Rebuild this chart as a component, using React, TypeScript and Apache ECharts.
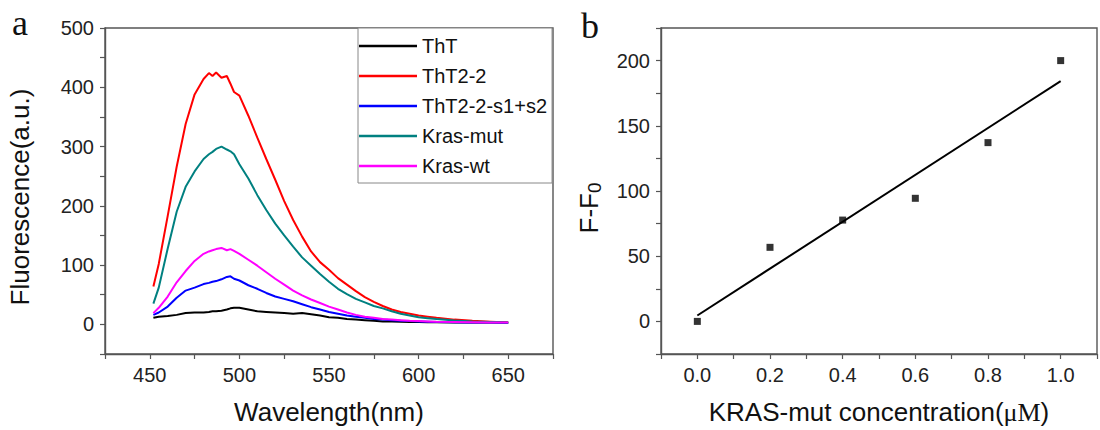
import React, { useEffect, useRef } from "react";
import * as echarts from "echarts";

// ---------- data ----------
const wavelengths = [452, 455, 460, 465, 470, 475, 480, 483, 485, 487, 490, 493, 495, 497, 500, 505, 510, 515, 520, 525, 530, 535, 540, 545, 550, 555, 560, 565, 570, 575, 580, 585, 590, 595, 600, 605, 610, 620, 630, 640, 650];

const thtValues = [11, 13, 14, 16, 19, 20, 20, 21, 22, 22, 23, 25, 27, 28, 28, 25, 22, 21, 20, 19, 18, 19, 17, 15, 12, 11, 9, 8, 7, 6, 5, 5, 4.5, 4, 4, 3.5, 3.5, 3, 3, 3, 3];
const tht22Values = [64, 102, 183, 266, 338, 388, 414, 424, 419, 425, 416, 419, 406, 392, 386, 352, 315, 279, 244, 208, 176, 148, 123, 105, 92, 78, 67, 56, 46, 38, 31, 25, 21, 18, 15, 13, 11, 8, 6, 4.5, 3];
const tht22s1s2Values = [16, 20, 30, 45, 57, 62, 68, 70, 72, 73, 76, 80, 81, 77, 74, 66, 60, 53, 47, 43, 39, 34, 29, 25, 21, 18, 15, 13, 11, 9, 8, 7, 6, 5.5, 5, 4.5, 4, 3.5, 3, 3, 2.5];
const krasMutValues = [35, 62, 128, 190, 232, 258, 279, 287, 291, 296, 300, 295, 292, 287, 270, 246, 218, 193, 170, 150, 131, 113, 99, 85, 72, 60, 51, 43, 37, 31, 27, 22, 18, 15, 12, 10.5, 9, 6.5, 5, 4, 3];
const krasWtValues = [19, 28, 47, 71, 90, 107, 119, 123, 125, 127, 129, 125, 127, 124, 119, 109, 99, 88, 77, 67, 57, 49, 42, 36, 30, 25, 20, 16, 13, 11, 9, 8, 7, 6, 5.5, 5, 4.5, 4, 3.5, 3, 3];

const seriesNames = ["ThT", "ThT2-2", "ThT2-2-s1+s2", "Kras-mut", "Kras-wt"];
const seriesColors = ["#000000", "#ff0000", "#0000ff", "#008080", "#ff00ff"];

const concentrations = [0.0, 0.2, 0.4, 0.6, 0.8, 1.0];
const deltaF = [0, 56.8, 77.7, 94.4, 137.1, 200];
const fitX = [0.0, 1.0];
const fitY = [4.5, 184.3];

const leftXTickLabels = [450, 500, 550, 600, 650];
const leftYTickLabels = [0, 100, 200, 300, 400, 500];
const rightXTickLabels = [0, 2, 4, 6, 8, 10]; // tenths
const rightYTickLabels = [0, 50, 100, 150, 200];

const FONT = "'Liberation Sans', Arial, Helvetica, sans-serif";
const SERIF = "'Liberation Serif', 'Times New Roman', Times, serif";
const AXIS_COLOR = "#555555";
const LABEL_COLOR = "#222222";

export default function App() {
  const ref = useRef<HTMLDivElement>(null);

  useEffect(() => {
    if (!ref.current) return;
    const chart = echarts.init(ref.current, null, { renderer: "svg" });

    const axisLine = { show: true, onZero: false, lineStyle: { color: AXIS_COLOR, width: 1.4 } };
    const axisTick = { show: true, inside: false, length: 5, lineStyle: { color: AXIS_COLOR, width: 1.2 } };
    const labelStyle = { color: LABEL_COLOR, fontSize: 20, fontFamily: FONT };

    const specSeries = [thtValues, tht22Values, tht22s1s2Values, krasMutValues, krasWtValues].map((vals, i) => ({
      name: seriesNames[i],
      type: "line",
      xAxisIndex: 0,
      yAxisIndex: 0,
      data: wavelengths.map((w, k) => [w, vals[k]]),
      showSymbol: false,
      symbol: "none",
      lineStyle: { color: seriesColors[i], width: 2 },
      itemStyle: { color: seriesColors[i] },
      smooth: false,
    }));

    const option: any = {
      animation: false,
      backgroundColor: "#ffffff",
      grid: [
        { left: 105, top: 28, width: 448, height: 329, show: true, borderColor: AXIS_COLOR, borderWidth: 1.4, containLabel: false },
        { left: 661, top: 28, width: 447, height: 329, show: true, borderColor: AXIS_COLOR, borderWidth: 1.4, containLabel: false },
      ],
      legend: {
        data: seriesNames,
        orient: "vertical",
        left: 358,
        top: 28,
        icon: "rect",
        itemWidth: 58,
        itemHeight: 2.5,
        itemGap: 10,
        padding: [8, 5, 7, 1],
        borderColor: "#888888",
        borderWidth: 1,
        backgroundColor: "#ffffff",
        textStyle: { fontSize: 20, fontFamily: FONT, color: "#111111" },
        selectedMode: false,
      },
      xAxis: [
        {
          type: "value",
          gridIndex: 0,
          min: 425,
          max: 675,
          interval: 25,
          name: "Wavelength(nm)",
          nameLocation: "middle",
          nameGap: 45,
          nameTextStyle: { fontSize: 26, fontFamily: FONT, color: "#111111" },
          axisLine,
          axisTick,
          splitLine: { show: false },
          axisLabel: {
            ...labelStyle,
            margin: 11,
            formatter: (v: number) => (leftXTickLabels.includes(Math.round(v)) ? String(Math.round(v)) : ""),
          },
        },
        {
          type: "value",
          gridIndex: 1,
          min: -0.1,
          max: 1.1,
          interval: 0.1,
          name: "KRAS-mut concentration({s|μM})",
          nameLocation: "middle",
          nameGap: 45,
          nameTextStyle: {
            fontSize: 26,
            fontFamily: FONT,
            color: "#111111",
            rich: { s: { fontSize: 26, fontFamily: SERIF, color: "#111111" } },
          },
          axisLine,
          axisTick,
          splitLine: { show: false },
          axisLabel: {
            ...labelStyle,
            margin: 11,
            formatter: (v: number) => {
              const r = Math.round(v * 10);
              return rightXTickLabels.includes(r) ? (r / 10).toFixed(1) : "";
            },
          },
        },
      ],
      yAxis: [
        {
          type: "value",
          gridIndex: 0,
          min: -50,
          max: 500,
          interval: 50,
          axisLine,
          axisTick,
          splitLine: { show: false },
          axisLabel: {
            ...labelStyle,
            margin: 11,
            formatter: (v: number) => (leftYTickLabels.includes(Math.round(v)) ? String(Math.round(v)) : ""),
          },
        },
        {
          type: "value",
          gridIndex: 1,
          min: -25,
          max: 225,
          interval: 25,
          axisLine,
          axisTick,
          splitLine: { show: false },
          axisLabel: {
            ...labelStyle,
            margin: 11,
            formatter: (v: number) => (rightYTickLabels.includes(Math.round(v)) ? String(Math.round(v)) : ""),
          },
        },
      ],
      graphic: [
        {
          type: "text",
          x: 20,
          y: 197,
          rotation: Math.PI / 2,
          style: {
            text: "Fluorescence(a.u.)",
            font: `26px ${FONT}`,
            fill: "#111111",
            align: "center",
            verticalAlign: "middle",
          },
        },
        {
          type: "text",
          x: 589,
          y: 208,
          rotation: Math.PI / 2,
          style: {
            text: "F-F{sub|0}",
            font: `26px ${FONT}`,
            fill: "#111111",
            align: "center",
            verticalAlign: "middle",
            rich: { sub: { fontSize: 19, fontFamily: FONT, fill: "#111111", padding: [10, 0, 0, 0] } },
          },
        },
        {
          type: "text",
          x: 12,
          y: 23,
          style: { text: "a", font: `36px ${SERIF}`, fill: "#111111", align: "left", verticalAlign: "middle" },
        },
        {
          type: "text",
          x: 581,
          y: 26,
          style: { text: "b", font: `36px ${SERIF}`, fill: "#111111", align: "left", verticalAlign: "middle" },
        },
      ],
      series: [
        ...specSeries,
        {
          name: "fit",
          type: "line",
          xAxisIndex: 1,
          yAxisIndex: 1,
          data: fitX.map((x, i) => [x, fitY[i]]),
          showSymbol: false,
          symbol: "none",
          lineStyle: { color: "#000000", width: 2 },
        },
        {
          name: "points",
          type: "scatter",
          xAxisIndex: 1,
          yAxisIndex: 1,
          data: concentrations.map((c, i) => [c, deltaF[i]]),
          symbol: "rect",
          symbolSize: 7,
          itemStyle: { color: "#000000" },
          z: 5,
        },
      ],
    };

    chart.setOption(option);
    return () => chart.dispose();
  }, []);

  return (
    <div
      ref={ref}
      style={{ position: "fixed", left: 0, top: 0, width: 1100, height: 430, background: "#ffffff" }}
    />
  );
}
